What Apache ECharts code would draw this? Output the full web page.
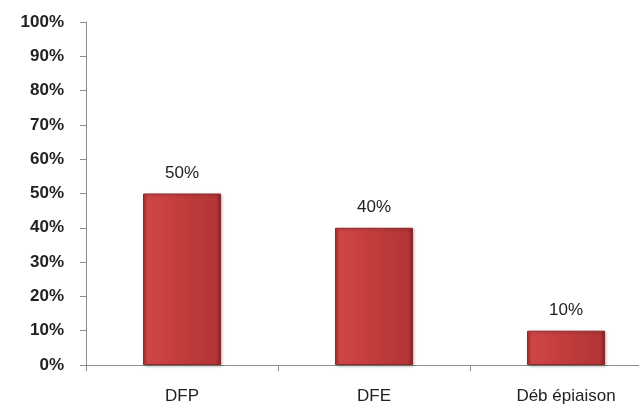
<!DOCTYPE html>
<html>
<head>
<meta charset="utf-8">
<script src="https://cdn.jsdelivr.net/npm/echarts@6/dist/echarts.min.js"></script>
<style>
  html, body { margin: 0; padding: 0; background: #fff; }
  #chart { width: 639px; height: 405px; }
</style>
</head>
<body>
<div id="chart"></div>
<script>
// data
const categories = ['DFP', 'DFE', 'Déb épiaison']
const values = [50, 40, 10]
const yTicks = [0, 10, 20, 30, 40, 50, 60, 70, 80, 90, 100]

const chart = echarts.init(document.getElementById('chart'))

const barColor = new echarts.graphic.LinearGradient(0, 0, 1, 0, [
  {offset: 0, color: '#a83232'},
  {offset: 0.06, color: '#d04646'},
  {offset: 0.5, color: '#c23c3c'},
  {offset: 0.94, color: '#b33535'},
  {offset: 1, color: '#7e2424'}
])

const option = {
  animation: false,
  // the plot runs past the right edge, as in the cropped original
  grid: {left: 86, right: -23, top: 22, bottom: 40, outerBoundsMode: 'none', containLabel: false},
  xAxis: {
    type: 'category',
    data: categories,
    axisLine: {lineStyle: {color: '#8c8c8c', width: 1}},
    axisTick: {show: true, length: 6, lineStyle: {color: '#8c8c8c'}},
    axisLabel: {
      color: '#222',
      fontFamily: 'Liberation Sans',
      fontSize: 17,
      margin: 23
    }
  },
  yAxis: {
    type: 'value',
    min: yTicks[0],
    max: yTicks[yTicks.length - 1],
    interval: 10,
    splitLine: {show: false},
    axisLine: {show: true, lineStyle: {color: '#8c8c8c', width: 1}},
    axisTick: {show: true, length: 6, lineStyle: {color: '#8c8c8c'}},
    axisLabel: {
      color: '#222',
      fontFamily: 'Liberation Sans',
      fontSize: 17,
      fontWeight: 'bold',
      margin: 22,
      formatter: '{value}%'
    }
  },
  series: [{
    type: 'bar',
    data: values,
    barWidth: 78,
    itemStyle: {
      color: barColor,
      borderColor: '#8a2a2a',
      borderWidth: 1,
      shadowColor: 'rgba(0,0,0,0.25)',
      shadowBlur: 3,
      shadowOffsetX: 1,
      shadowOffsetY: 1
    },
    label: {
      show: true,
      position: 'top',
      distance: 12,
      color: '#222',
      fontFamily: 'Liberation Sans',
      fontSize: 17,
      formatter: '{c}%'
    }
  }]
}

chart.setOption(option)
</script>
</body>
</html>
